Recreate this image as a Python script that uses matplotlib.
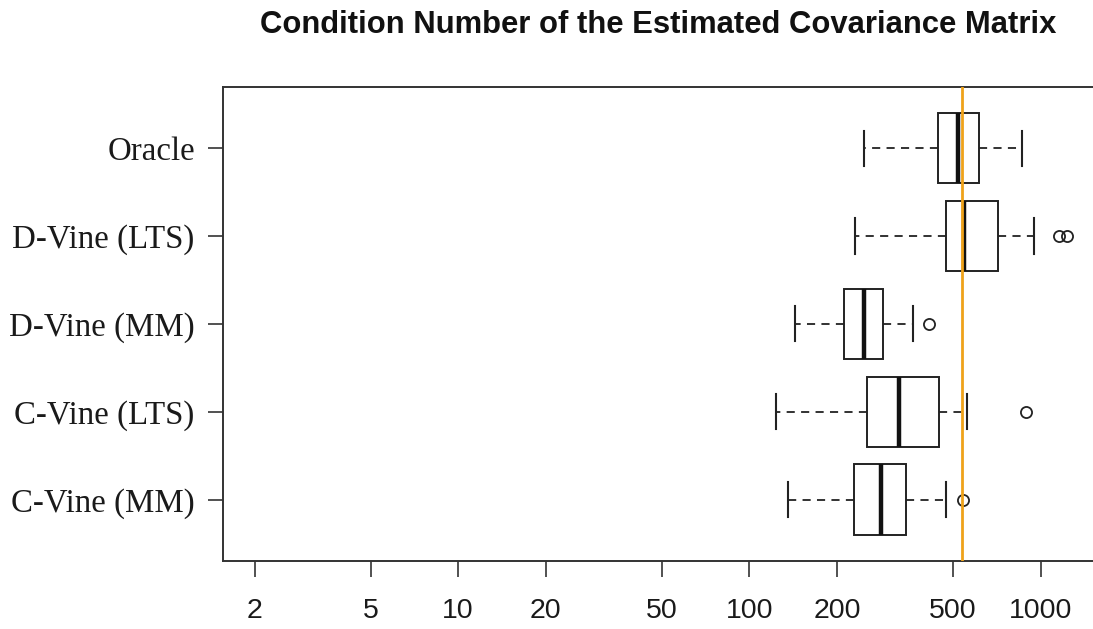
import numpy as np
import matplotlib.pyplot as plt

# groups listed bottom to top (R puts the first group at the bottom)
groups = ['C-Vine (MM)', 'C-Vine (LTS)', 'D-Vine (MM)', 'D-Vine (LTS)', 'Oracle']
whislo = [136, 123, 143, 230, 247]
q1 = [228, 253, 212, 472, 443]
med = [283, 326, 247, 546, 520]
q3 = [344, 447, 287, 712, 616]
whishi = [473, 557, 365, 946, 863]
fliers = [[543], [891], [414], [1156, 1229], []]
ref_value = 537

xticks = [2, 5, 10, 20, 50, 100, 200, 500, 1000]

stats = []
for i in range(len(groups)):
    stats.append({'label': groups[i], 'whislo': whislo[i], 'q1': q1[i], 'med': med[i],
                  'q3': q3[i], 'whishi': whishi[i], 'fliers': fliers[i]})

fig = plt.figure(figsize=(10.93, 6.29), dpi=100)
ax = fig.add_axes([0.2037, 0.1081, 0.8285, 0.7541])

ax.bxp(stats, positions=np.arange(1, len(groups) + 1), vert=False, widths=0.8,
       capwidths=0.4, patch_artist=True,
       boxprops=dict(facecolor='white', edgecolor='#222222', linewidth=1.4),
       whiskerprops=dict(color='#222222', linewidth=1.3, linestyle=(0, (4.5, 3.5))),
       capprops=dict(color='#222222', linewidth=1.5),
       medianprops=dict(color='#111111', linewidth=3.2),
       flierprops=dict(marker='o', markerfacecolor='none', markeredgecolor='#222222',
                       markersize=8, markeredgewidth=1.3))

ax.axvline(ref_value, color='#EFA21A', linewidth=2, zorder=5)

ax.set_xscale('log')
ax.set_xlim(1.553, 2000)
ax.set_ylim(0.3, 5.7)
ax.set_xticks(xticks)
ax.set_xticklabels([str(t) for t in xticks])
ax.minorticks_off()
ax.set_yticks(np.arange(1, len(groups) + 1))
ax.set_yticklabels(groups, family=['Liberation Serif', 'DejaVu Serif'], fontsize=23.7)
for lab in ax.get_xticklabels():
    lab.set_family(['Liberation Sans', 'DejaVu Sans'])
    lab.set_fontsize(20.5)

ax.tick_params(axis='x', length=11.5, width=1.2, pad=15, colors='#333333', labelcolor='#1a1a1a')
ax.tick_params(axis='y', length=11, width=1.2, pad=9, colors='#333333', labelcolor='#1a1a1a')
for s in ax.spines.values():
    s.set_linewidth(1.4)
    s.set_color('#333333')

fig.text(0.6025, 0.960, 'Condition Number of the Estimated Covariance Matrix',
         ha='center', va='center', fontsize=22.3, fontweight='bold',
         family=['Liberation Sans', 'DejaVu Sans'], color='#111111')

fig.savefig('out.png', dpi=100)
